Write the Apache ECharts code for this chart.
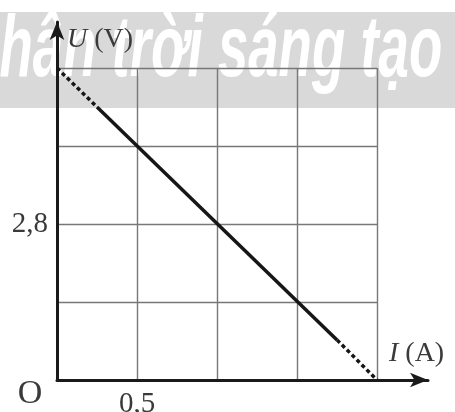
<!DOCTYPE html>
<html><head><meta charset="utf-8">
<script src="https://cdn.jsdelivr.net/npm/echarts@6/dist/echarts.min.js"></script>
<style>html,body{margin:0;padding:0;background:#fff}#c{width:455px;height:412px}</style>
</head><body><div id="c"></div>
<script>
// Data
var currentA = [0, 0.25, 1.75, 2];      // I (A)
var voltageV = [5.6, 4.9, 0.72, 0];     // U (V)
var xTicks = ['0,5'];                    // shown tick labels
var yTicks = ['2,8'];
var xLabelValues = [0.5];
var yLabelValues = [2.8];

var pts = currentA.map(function(v,i){return [v, voltageV[i]];});
var chart = echarts.init(document.getElementById('c'), null, {renderer:'canvas'});
var serif = "'Liberation Serif', 'DejaVu Serif', serif";
var lineCol = '#161616';
var txtCol = '#3a3a3a';

chart.setOption({
  animation:false,
  backgroundColor:'#fff',
  graphic:[
    {type:'rect', z:-10, shape:{x:0,y:12,width:455,height:96}, style:{fill:'#d9d9d9'}},
    {type:'text', z:-9, x:-40, y:52, scaleX:0.62, style:{text:'Chân trời sáng tạo', font:"italic bold 88px 'Liberation Sans', sans-serif", fill:'#ffffff', verticalAlign:'middle'}},
    {type:'text', z:20, x:67, y:40, style:{text:'{i|U} (V)', rich:{i:{fontStyle:'italic', fontFamily:serif, fontSize:28, fill:txtCol}}, fontFamily:serif, fontSize:28, fill:txtCol, verticalAlign:'middle'}},
    {type:'text', z:20, x:389, y:354, style:{text:'{i|I} (A)', rich:{i:{fontStyle:'italic', fontFamily:serif, fontSize:28, fill:txtCol}}, fontFamily:serif, fontSize:28, fill:txtCol, verticalAlign:'middle'}},
    {type:'text', z:20, x:30, y:394, style:{text:'O', fontFamily:serif, fontSize:34, fill:txtCol, align:'center', verticalAlign:'middle'}}
  ],
  grid:[
    {left:57, right:78, top:68, bottom:32, outerBoundsMode:'none', containLabel:false},
    {left:57, right:27, top:22, bottom:32, outerBoundsMode:'none', containLabel:false}
  ],
  xAxis:[
    {type:'value', gridIndex:0, min:0, max:2, interval:0.5,
     axisLine:{show:false}, axisTick:{show:false},
     splitLine:{show:true, lineStyle:{color:'#777', width:1.4}},
     axisLabel:{margin:10, fontFamily:serif, fontSize:29, color:txtCol,
       formatter:function(v){var k=xLabelValues.indexOf(Math.round(v*100)/100);return k>=0?xTicks[k]:'';}}},
    {type:'value', gridIndex:1, min:0, max:1,
     axisLine:{show:true, onZero:false, symbol:['none','arrow'], symbolSize:[11,18], lineStyle:{color:'#1a1a1a', width:3}},
     axisTick:{show:false}, axisLabel:{show:false}, splitLine:{show:false}}
  ],
  yAxis:[
    {type:'value', gridIndex:0, min:0, max:5.6, interval:1.4,
     axisLine:{show:false}, axisTick:{show:false},
     splitLine:{show:true, lineStyle:{color:'#777', width:1.4}},
     axisLabel:{margin:9, fontFamily:serif, fontSize:29, color:txtCol,
       formatter:function(v){var k=yLabelValues.indexOf(Math.round(v*100)/100);return k>=0?yTicks[k]:'';}}},
    {type:'value', gridIndex:1, min:0, max:1,
     axisLine:{show:true, onZero:false, symbol:['none','arrow'], symbolSize:[11,18], lineStyle:{color:'#1a1a1a', width:3}},
     axisTick:{show:false}, axisLabel:{show:false}, splitLine:{show:false}}
  ],
  series:[
    {type:'line', xAxisIndex:0, yAxisIndex:0, data:pts.slice(0,2), showSymbol:false, z:5,
     lineStyle:{color:lineCol, width:3.5, type:[4,3]}},
    {type:'line', xAxisIndex:0, yAxisIndex:0, data:pts.slice(1,3), showSymbol:false, z:5,
     lineStyle:{color:lineCol, width:3.5, type:'solid'}},
    {type:'line', xAxisIndex:0, yAxisIndex:0, data:pts.slice(2,4), showSymbol:false, z:5,
     lineStyle:{color:lineCol, width:3.5, type:[4,3]}}
  ]
});
</script></body></html>
